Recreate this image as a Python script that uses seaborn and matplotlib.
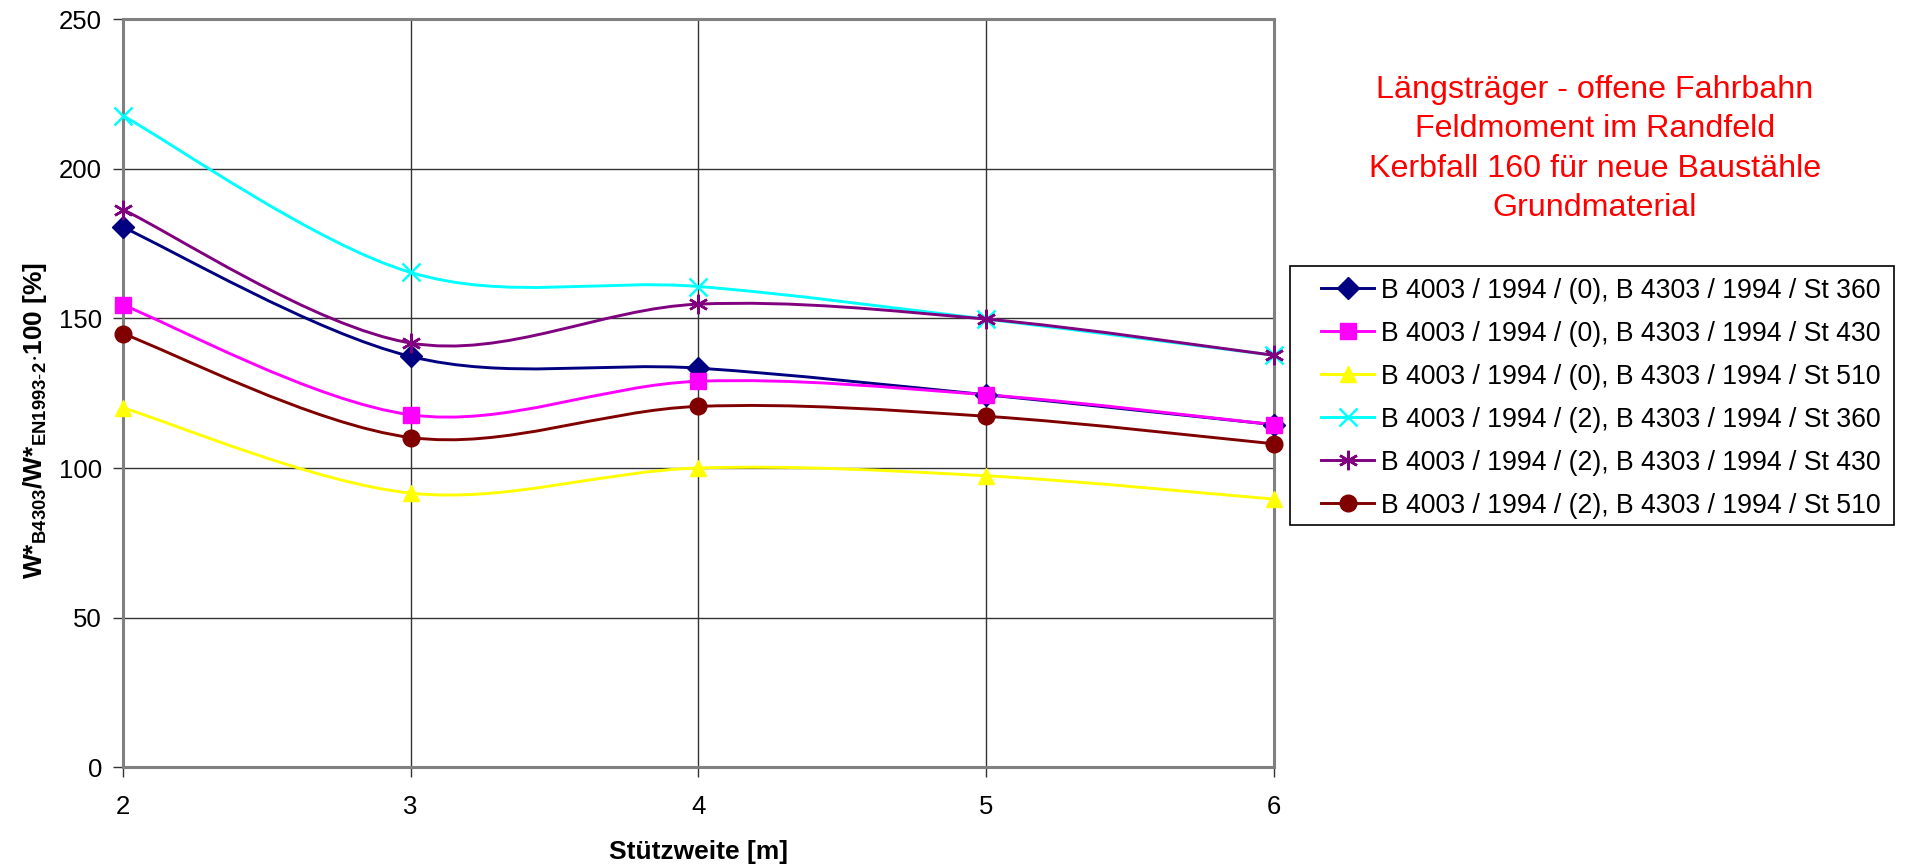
import numpy as np
import pandas as pd
import seaborn as sns
import matplotlib.pyplot as plt
from matplotlib.path import Path
from matplotlib.patches import PathPatch, Rectangle
from matplotlib.lines import Line2D

# Stützweite [m]
spans = [2, 3, 4, 5, 6]

series_names = [
    "B 4003 / 1994 / (0), B 4303 / 1994 / St 360",
    "B 4003 / 1994 / (0), B 4303 / 1994 / St 430",
    "B 4003 / 1994 / (0), B 4303 / 1994 / St 510",
    "B 4003 / 1994 / (2), B 4303 / 1994 / St 360",
    "B 4003 / 1994 / (2), B 4303 / 1994 / St 430",
    "B 4003 / 1994 / (2), B 4303 / 1994 / St 510",
]

# ratio W*B4303 / W*EN1993-2 in %
st360_0 = [180.5, 137.3, 133.4, 124.5, 114.5]
st430_0 = [154.5, 117.8, 129.0, 124.5, 114.5]
st510_0 = [120.1, 91.6, 100.0, 97.4, 89.6]
st360_2 = [217.8, 165.4, 160.7, 149.8, 137.7]
st430_2 = [186.4, 141.8, 154.8, 149.8, 137.7]
st510_2 = [144.9, 110.2, 120.6, 117.3, 108.1]

all_values = [st360_0, st430_0, st510_0, st360_2, st430_2, st510_2]

colors = ["#000080", "#FF00FF", "#FFFF00", "#00FFFF", "#800080", "#800000"]
markers = ["D", "s", "^", "x", (6, 2, 0), "o"]
msizes = [11, 12, 12, 13, 14, 12]


def smooth_path(xs, ys):
    # Excel-like smoothed line: cubic bezier through the points
    pts = np.column_stack([xs, ys]).astype(float)
    n = len(pts)
    verts = [pts[0]]
    codes = [Path.MOVETO]
    for i in range(n - 1):
        p0 = pts[max(i - 1, 0)]
        p1 = pts[i]
        p2 = pts[i + 1]
        p3 = pts[min(i + 2, n - 1)]
        verts += [p1 + (p2 - p0) / 6, p2 - (p3 - p1) / 6, p2]
        codes += [Path.CURVE4] * 3
    return Path(verts, codes)


plt.rcParams["font.family"] = ["Liberation Sans", "DejaVu Sans"]
plt.rcParams["mathtext.fontset"] = "custom"
plt.rcParams["mathtext.rm"] = "Liberation Sans"
plt.rcParams["mathtext.bf"] = "Liberation Sans:bold"
plt.rcParams["mathtext.it"] = "Liberation Sans:italic"

W, H = 1912, 866
fig = plt.figure(figsize=(19.12, 8.66), dpi=100)
ax = fig.add_axes([0.0643, 0.1143, 0.6019, 0.8632])

handles = []
for name, vals, c, m, ms in zip(series_names, all_values, colors, markers, msizes):
    # smoothed curve
    ax.add_patch(PathPatch(smooth_path(spans, vals), facecolor="none", edgecolor=c, lw=2.1, zorder=2))
    # markers
    mew = 1.8 if ms >= 13 else 1.0
    d = pd.DataFrame({"span": spans, "value": vals})
    sns.lineplot(data=d, x="span", y="value", color=c, marker=m, markersize=ms,
                 markerfacecolor=c, markeredgecolor=c, markeredgewidth=mew,
                 linewidth=0, ax=ax, zorder=3, clip_on=False)
    handles.append(Line2D([], [], color=c, marker=m, markersize=ms, markerfacecolor=c,
                          markeredgecolor=c, markeredgewidth=mew, lw=2.1))

ax.set_xlim(2, 6)
ax.set_ylim(0, 250)
ax.set_xticks(spans)
ax.set_yticks(range(0, 251, 50))
ax.grid(True, color="#333333", lw=1.0, zorder=0)
ax.set_axisbelow(True)
for sp in ax.spines.values():
    sp.set_color("#808080")
    sp.set_linewidth(2.2)
ax.tick_params(axis="both", labelsize=18.5, length=7, width=1, color="#333333", pad=8)
ax.tick_params(axis="x", pad=13.5)

ax.set_xlabel("Stützweite [m]", fontsize=19, fontweight="bold", labelpad=15)
ax.set_ylabel(r"$\mathbf{W{*}_{B4303}/W{*}_{EN1993\text{-}2}{\cdot}100\ [\%]}$", fontsize=19)
ax.yaxis.set_label_coords(-0.064, 0.4637)

fig.text(
    1595 / W, 1 - 149 / H,
    "Längsträger - offene Fahrbahn\nFeldmoment im Randfeld\nKerbfall 160 für neue Baustähle\nGrundmaterial",
    color="red", fontsize=23.2, ha="center", va="center", multialignment="center", linespacing=1.395,
)

# legend frame drawn separately (wider side padding than top/bottom)
fig.patches.append(Rectangle((1290 / W, 1 - 525 / H), 604 / W, 259 / H, transform=fig.transFigure,
                             facecolor="white", edgecolor="black", lw=1.2, zorder=1))
leg = fig.legend(
    handles, series_names, loc="upper left", bbox_to_anchor=(1321 / W, 1 - 277.5 / H),
    bbox_transform=fig.transFigure, fontsize=19.2, frameon=False, borderpad=0,
    labelspacing=0.64, handlelength=2.0, handletextpad=0.25, borderaxespad=0,
)
leg.set_zorder(2)

fig.savefig("out.png", dpi=100)
